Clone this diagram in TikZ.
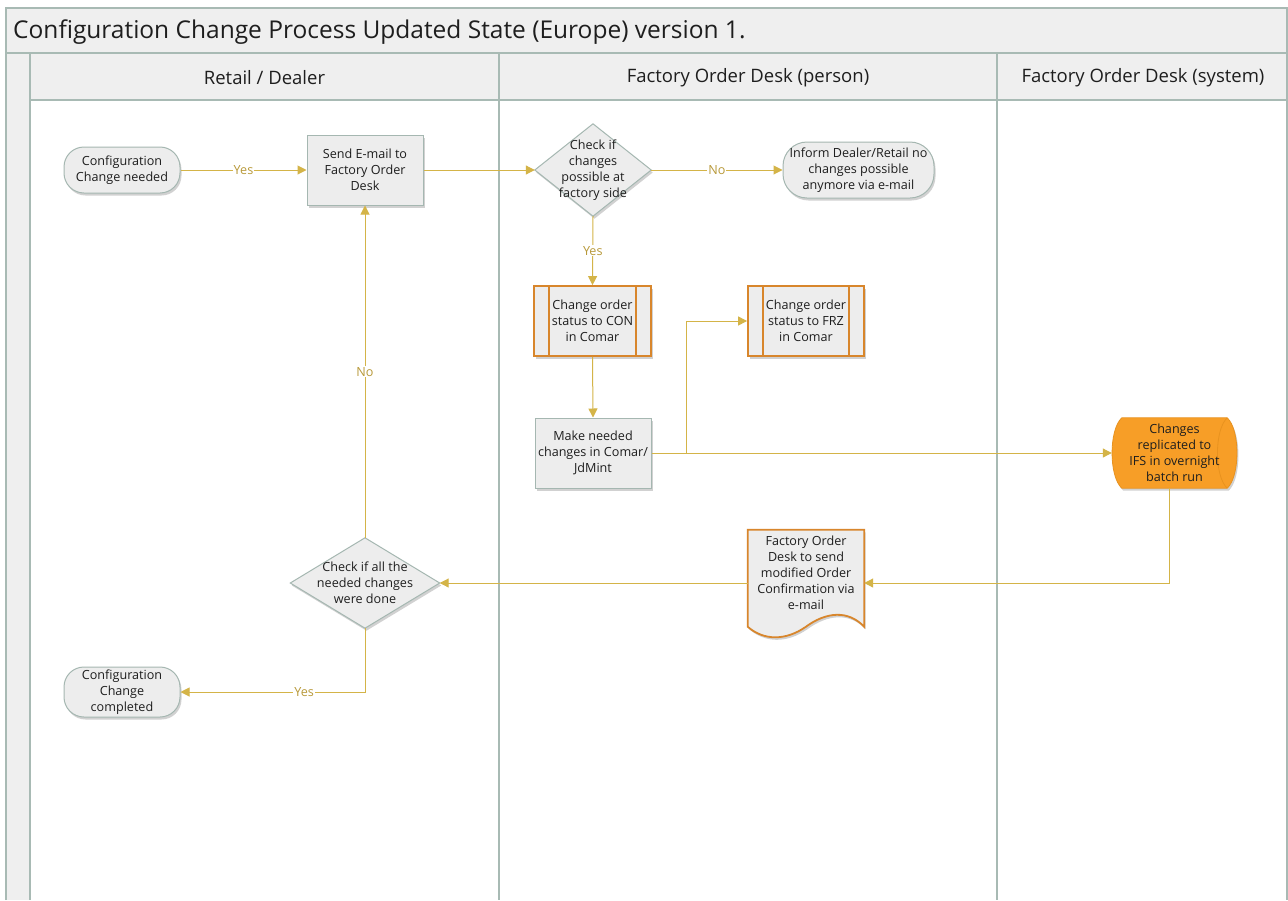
\documentclass[tikz,border=0pt]{standalone}
\usepackage{fontspec}
\setmainfont{Open Sans}
\usetikzlibrary{arrows.meta,shadows,calc}

\definecolor{frameln}{HTML}{A8BAB4}
\definecolor{bandfill}{HTML}{EFEFEF}
\definecolor{boxfill}{HTML}{EDEDED}
\definecolor{boxline}{HTML}{A5B7B1}
\definecolor{orangeln}{HTML}{D8862C}
\definecolor{orangefill}{HTML}{F79E27}
\definecolor{orangeedge}{HTML}{E8921F}
\definecolor{flow}{HTML}{D4B448}
\definecolor{flowtext}{HTML}{B8993A}
\definecolor{ink}{HTML}{1E1E1E}

\pgfdeclarelayer{bg}
\pgfsetlayers{bg,main}

\tikzset{
  softshadow/.style={drop shadow={shadow xshift=1.5pt,shadow yshift=-2.5pt,opacity=0.18,fill=black}},
  nodetext/.style={font=\fontsize{12.6}{16}\selectfont, text=ink, align=center, inner sep=0pt},
  terminal/.style={nodetext, rectangle, rounded corners=20pt, draw=boxline, line width=1pt,
    fill=boxfill, softshadow},
  process/.style={nodetext, rectangle, draw=boxline, line width=1pt, fill=boxfill, softshadow,
    minimum width=116pt, minimum height=70pt},
  subproc/.style={nodetext, rectangle, draw=orangeln, line width=1.8pt, fill=boxfill, softshadow,
    minimum width=116pt, minimum height=70pt,
    path picture={\draw[orangeln,line width=1.8pt]
      ([xshift=15pt]path picture bounding box.north west) -- ([xshift=15pt]path picture bounding box.south west)
      ([xshift=-15pt]path picture bounding box.north east) -- ([xshift=-15pt]path picture bounding box.south east);}},
  holder/.style={nodetext, rectangle},
  flowline/.style={draw=flow, line width=1pt, -{Triangle[length=9pt,width=9pt]}},
  flowlabel/.style={fill=white, inner sep=1pt, text=flowtext, font=\fontsize{12.6}{14}\selectfont},
  lane/.style={draw=frameln, line width=1.3pt},
  headtext/.style={font=\fontsize{18.5}{22}\selectfont, text=ink, inner sep=0pt}
}

\begin{document}
\begin{tikzpicture}[x=1pt,y=-1pt]
\useasboundingbox (0,0) rectangle (1288,900);

% swimlane frame
\begin{pgfonlayer}{bg}
  \fill[white] (0,0) rectangle (1288,900);
  \path[fill=bandfill] (6,8) rectangle (1288,53);
  \path[fill=bandfill] (6,53) rectangle (30,900);
  \path[fill=bandfill] (30,53) rectangle (1288,100);
  \draw[lane] (6,900) -- (6,8) -- (1287,8) -- (1287,900);
  \draw[lane] (6,53) -- (1288,53);
  \draw[lane] (30,100) -- (1288,100);
  \draw[lane] (30,53) -- (30,900);
  \draw[lane] (499,53) -- (499,900);
  \draw[lane] (997,53) -- (997,900);
\end{pgfonlayer}

\node[anchor=west, font=\fontsize{24.5}{28}\selectfont, text=ink, inner sep=0pt] (title) at (13,32.5)
  {Configuration Change Process Updated State (Europe) version 1.};
\node[headtext] (laneA) at (264.5,77.5) {Retail / Dealer};
\node[headtext] (laneB) at (748,77.5) {Factory Order Desk (person)};
\node[headtext] (laneC) at (1143,77.5) {Factory Order Desk (system)};

% flow nodes
\node[terminal, minimum width=116pt, minimum height=46pt] (n1) at (122,170) {Configuration\\Change needed};
\node[process] (n2) at (365,170) {Send E-mail to\\Factory Order\\Desk};
\node[holder, minimum width=116pt, minimum height=92pt] (n3) at (593,170) {Check if\\changes\\possible at\\factory side};
\node[terminal, rounded corners=24pt, minimum width=151pt, minimum height=56pt] (n4) at (858.5,170)
  {Inform Dealer/Retail no\\changes possible\\anymore via e-mail};
\node[subproc, minimum width=117pt] (n5) at (592.5,321) {Change order\\status to CON\\in Comar};
\node[subproc] (n6) at (806,321) {Change order\\status to FRZ\\in Comar};
\node[process] (n7) at (593,453) {Make needed\\changes in Comar/\\JdMint};
\node[holder, minimum width=125pt, minimum height=70pt] (n8) at (1174.5,453)
  {Changes\\replicated to\\IFS in overnight\\batch run};
\node[holder, minimum width=116pt, minimum height=86pt] (n9) at (806,573)
  {Factory Order\\Desk to send\\modified Order\\Confirmation via\\e-mail};
\node[holder, minimum width=149pt, minimum height=90pt] (n10) at (365,583)
  {Check if all the\\needed changes\\were done};
\node[terminal, minimum width=116pt, minimum height=50pt] (n11) at (122,692) {Configuration\\Change\\completed};

% outlines of the decision, storage and document shapes
\begin{pgfonlayer}{bg}
  \path[fill=boxfill, draw=boxline, line width=1pt, softshadow]
    (n3.north) -- (n3.east) -- (n3.south) -- (n3.west) -- cycle;
  \path[fill=boxfill, draw=boxline, line width=1pt, softshadow]
    (n10.north) -- (n10.east) -- (n10.south) -- (n10.west) -- cycle;
  \path[fill=orangefill, draw=orangeedge, line width=0.8pt, softshadow]
    ($(n8.north west)+(10,0)$) -- ($(n8.north east)+(-10,0)$)
    .. controls ($(n8.north east)+(3,12)$) and ($(n8.south east)+(3,-12)$) .. ($(n8.south east)+(-10,0)$)
    -- ($(n8.south west)+(10,0)$)
    .. controls ($(n8.south west)+(-3,-12)$) and ($(n8.north west)+(-3,12)$) .. ($(n8.north west)+(10,0)$)
    -- cycle;
  \draw[orangeedge, line width=0.8pt]
    ($(n8.north east)+(-10,0)$)
    .. controls ($(n8.north east)+(-23,12)$) and ($(n8.south east)+(-23,-12)$) .. ($(n8.south east)+(-10,0)$);
  \path[fill=boxfill, draw=orangeln, line width=1.8pt, softshadow]
    (n9.north west) -- (n9.north east) -- ($(n9.north east)+(0,97)$)
    .. controls ($(n9.north east)+(-16,80)$) and ($(n9.north east)+(-38,82)$) .. ($(n9.north west)+(58,97)$)
    .. controls ($(n9.north west)+(38,111)$) and ($(n9.north west)+(16,111)$) .. ($(n9.north west)+(0,97)$)
    -- cycle;
\end{pgfonlayer}

% connectors
\draw[flowline] (n1.east) -- node[flowlabel] {Yes} (n2.west);
\draw[flowline] (n2.east) -- (n3.west);
\draw[flowline] (n3.east) -- node[flowlabel] {No} (n4.west);
\draw[flowline] (n3.south) -- node[flowlabel] {Yes} (n5.north);
\draw[flowline] (n5.south) -- (n7.north);
\draw[flowline] (n7.east) -- (n8.west);
\draw[flowline] (n7.east) -- ++(35,0) |- (n6.west);
\draw[flowline] ([xshift=-5pt]n8.south) |- ([yshift=-10pt]n9.east);
\draw[flowline] ([yshift=-10pt]n9.west) -- (n10.east);
\draw[flowline] (n10.north) -- node[flowlabel] {No} (n2.south);
\draw[flowline] (n10.south) |- node[flowlabel, pos=0.665] {Yes} (n11.east);

\end{tikzpicture}
\end{document}
